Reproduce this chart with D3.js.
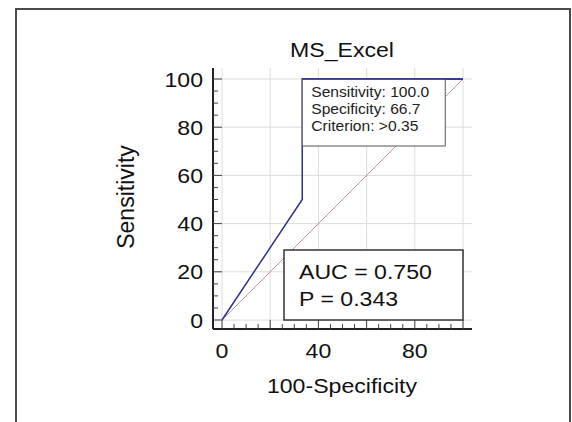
<!DOCTYPE html>
<html>
<head>
<meta charset="utf-8">
<script src="https://cdn.jsdelivr.net/npm/d3@7"></script>
<style>
	body { margin: 0; background: #fff; }
	svg { display: block; font-family: Arial, "Liberation Sans", sans-serif; }
</style>
</head>
<body>
<svg id="chart" width="572" height="422"></svg>
<script>
'use strict';

var title = 'MS_Excel';
var xLabel = '100-Specificity';
var yLabel = 'Sensitivity';

// ROC curve points (100-specificity, sensitivity)
var rocX = [0, 33.3, 33.3, 100];
var rocY = [0, 50, 100, 100];

var xTickLabels = [0, 40, 80];
var yTickLabels = [0, 20, 40, 60, 80, 100];
var gridValues = [0, 20, 40, 60, 80, 100];

var criterionLines = ['Sensitivity: 100.0', 'Specificity: 66.7', 'Criterion: >0.35'];
var statsLines = ['AUC = 0.750', 'P = 0.343'];

var svg = d3.select('#chart');
var STRETCH = 1.1;

/**
 * Add a text that is a bit wider than the font, like in the source picture.
 */
function label(parent, px, py, str, size, anchor) {
	return parent.append('text')
		.attr('transform', 'translate(' + px + ',' + py + ') scale(' + STRETCH + ',1)')
		.attr('text-anchor', anchor || 'start')
		.attr('font-size', size)
		.attr('fill', '#111')
		.text(str);
}

// outer frame, bottom edge is cut off
svg.append('path')
	.attr('d', 'M16,422 V9 H570 V422')
	.attr('fill', 'none')
	.attr('stroke', '#4a4a4a')
	.attr('stroke-width', 2);

var x = d3.scaleLinear().domain([0, 100]).range([222, 463]);
var y = d3.scaleLinear().domain([0, 100]).range([320, 79]);

var plot = { left: 213, right: 472, top: 68, bottom: 329 };

// grid
var grid = svg.append('g').attr('stroke', '#dcdcdc').attr('stroke-width', 1);
grid.selectAll('.gx').data(gridValues).enter()
	.append('line')
	.attr('x1', function(d) { return x(d); })
	.attr('x2', function(d) { return x(d); })
	.attr('y1', plot.top)
	.attr('y2', plot.bottom);
grid.selectAll('.gy').data(gridValues).enter()
	.append('line')
	.attr('x1', plot.left)
	.attr('x2', plot.right)
	.attr('y1', function(d) { return y(d); })
	.attr('y2', function(d) { return y(d); });

// diagonal reference
svg.append('line')
	.attr('x1', x(0)).attr('y1', y(0))
	.attr('x2', x(100)).attr('y2', y(100))
	.attr('stroke', '#c98f9a')
	.attr('stroke-width', 1);

// axes
var minor = d3.range(0, 101, 5);

var yAxis = svg.append('g').attr('transform', 'translate(' + plot.left + ',0)');
yAxis.append('line')
	.attr('y1', plot.top).attr('y2', plot.bottom)
	.attr('stroke', '#222').attr('stroke-width', 2);
yAxis.selectAll('.t').data(minor).enter()
	.append('line')
	.attr('x1', 0)
	.attr('x2', function(d) { return d % 20 === 0 ? 9 : 5; })
	.attr('y1', function(d) { return y(d); })
	.attr('y2', function(d) { return y(d); })
	.attr('stroke', '#444');
yTickLabels.forEach(function(d) {
	label(yAxis, -10, y(d) + 7.5, d, 21, 'end');
});

var xAxis = svg.append('g').attr('transform', 'translate(0,' + plot.bottom + ')');
xAxis.append('line')
	.attr('x1', plot.left).attr('x2', plot.right)
	.attr('stroke', '#222').attr('stroke-width', 2);
xAxis.selectAll('.t').data(minor).enter()
	.append('line')
	.attr('y1', 0)
	.attr('y2', function(d) { return d % 20 === 0 ? -9 : -5; })
	.attr('x1', function(d) { return x(d); })
	.attr('x2', function(d) { return x(d); })
	.attr('stroke', '#444');
xTickLabels.forEach(function(d) {
	label(xAxis, x(d), 29, d, 21, 'middle');
});

// ROC curve
var line = d3.line()
	.x(function(d) { return x(d[0]); })
	.y(function(d) { return y(d[1]); });
svg.append('path')
	.datum(d3.zip(rocX, rocY))
	.attr('d', line)
	.attr('fill', 'none')
	.attr('stroke', '#2e3192')
	.attr('stroke-width', 1.5);

// criterion box
var cbox = svg.append('g');
cbox.append('rect')
	.attr('x', x(33.3)).attr('y', y(100))
	.attr('width', 143).attr('height', 67)
	.attr('fill', '#fff')
	.attr('stroke', '#555');
criterionLines.forEach(function(d, i) {
	label(cbox, x(33.3) + 9, 97 + i * 17, d, 14.2).attr('fill', '#222');
});
// top segment of the curve over the box edge
svg.append('line')
	.attr('x1', x(33.3)).attr('x2', x(100))
	.attr('y1', y(100)).attr('y2', y(100))
	.attr('stroke', '#2e3192').attr('stroke-width', 1.5);

// AUC box
var sbox = svg.append('g');
sbox.append('rect')
	.attr('x', 284).attr('y', 250)
	.attr('width', 179).attr('height', 70)
	.attr('fill', '#fff')
	.attr('stroke', '#333')
	.attr('stroke-width', 1.5);
statsLines.forEach(function(d, i) {
	label(sbox, 299, 279 + i * 27, d, 21);
});

// titles
label(svg, 342, 57, title, 21, 'middle');
label(svg, 342, 393, xLabel, 21, 'middle');

svg.append('text')
	.attr('transform', 'translate(134,197) rotate(-90)')
	.attr('text-anchor', 'middle')
	.attr('font-size', 23)
	.attr('fill', '#111')
	.text(yLabel);
</script>
</body>
</html>
